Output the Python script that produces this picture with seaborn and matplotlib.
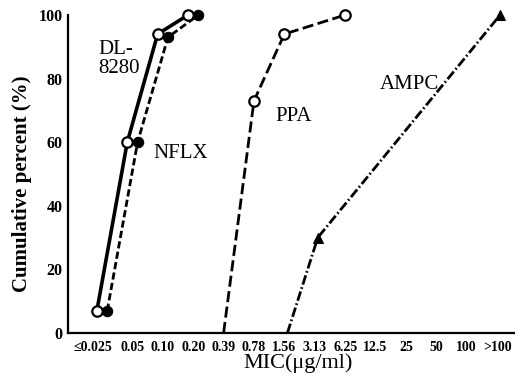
import matplotlib
matplotlib.use("Agg")
import matplotlib.pyplot as plt
import matplotlib.transforms as mtransforms
import seaborn as sns
import pandas as pd

# ---- data ----
mic_labels = ['≤0.025', '0.05', '0.10', '0.20', '0.39', '0.78', '1.56',
              '3.13', '6.25', '12.5', '25', '50', '100', '>100']
y_ticks = [0, 20, 40, 60, 80, 100]

dl8280_mic = ['≤0.025', '0.05', '0.10', '0.20']
dl8280_pct = [7, 60, 94, 100]

nflx_mic = ['≤0.025', '0.05', '0.10', '0.20']
nflx_pct = [7, 60, 93, 100]

ppa_mic = ['0.39', '0.78', '1.56', '6.25']
ppa_pct = [0, 73, 94, 100]

ampc_mic = ['1.56', '3.13', '>100']
ampc_pct = [0, 30, 100]

# ---- style ----
sns.set_theme(style="white")
plt.rcParams['font.family'] = ['Liberation Serif', 'DejaVu Serif']

fig = plt.figure(figsize=(5.15, 3.78), dpi=100)
ax = fig.add_axes([68 / 515, 45 / 378, 447 / 515, 318 / 378])


def frame(mic, pct, shift=0.0):
    return pd.DataFrame({'x': [mic_labels.index(m) + shift for m in mic],
                         'y': pct})


d_dl = frame(dl8280_mic, dl8280_pct, -0.17)
d_nf = frame(nflx_mic, nflx_pct, 0.17)
d_ppa = frame(ppa_mic, ppa_pct)
d_am = frame(ampc_mic, ampc_pct, 0.1)

sns.lineplot(data=d_nf, x='x', y='y', ax=ax, color='black', lw=2.0,
             linestyle=(0, (2.6, 1.2)), marker='o', markersize=7.5,
             markerfacecolor='black', markeredgecolor='black',
             clip_on=False, sort=False, zorder=3)
sns.lineplot(data=d_dl, x='x', y='y', ax=ax, color='black', lw=2.6,
             marker='o', markersize=7.5, markerfacecolor='white',
             markeredgecolor='black', markeredgewidth=1.6,
             clip_on=False, sort=False, zorder=4)
sns.lineplot(data=d_ppa, x='x', y='y', ax=ax, color='black', lw=2.0,
             linestyle=(0, (4.0, 1.6)), marker='o', markersize=7.5,
             markerfacecolor='white', markeredgecolor='black',
             markeredgewidth=1.6, markevery=[1, 2, 3],
             clip_on=False, sort=False, zorder=3)
sns.lineplot(data=d_am, x='x', y='y', ax=ax, color='black', lw=2.0,
             linestyle=(0, (3.5, 1.0, 0.6, 1.0)), marker='^', markersize=7.5,
             markerfacecolor='black', markeredgecolor='black',
             markevery=[1, 2], clip_on=False, sort=False, zorder=3)

# ---- labels on curves ----
lab_kw = dict(fontsize=15, color='black', fontfamily=['Liberation Serif', 'DejaVu Serif'])
ax.text(-0.13, 92, 'DL-\n8280', ha='left', va='top', linespacing=1.0, **lab_kw)
ax.text(1.68, 56.5, 'NFLX', ha='left', va='center', **lab_kw)
ax.text(5.7, 68, 'PPA', ha='left', va='center', **lab_kw)
ax.text(9.15, 78, 'AMPC', ha='left', va='center', **lab_kw)

# ---- axes ----
ax.set_xlim(-1.12, 13.59)
ax.set_ylim(0, 100)
ax.set_xticks(range(len(mic_labels)))
ax.set_xticklabels(mic_labels, fontsize=10, fontweight='bold')
ax.set_yticks(y_ticks)
ax.set_yticklabels([str(v) for v in y_ticks], fontsize=11.5, fontweight='bold')
ax.tick_params(axis='both', direction='in', length=5, width=1.5, color='black',
               labelcolor='black', pad=4)
ax.tick_params(axis='x', pad=6)

# nudge the wide first category label left so it clears its neighbour
first = ax.get_xticklabels()[0]
first.set_transform(first.get_transform() +
                    mtransforms.ScaledTranslation(-9 / 100, 0, fig.dpi_scale_trans))

for side in ['top', 'right']:
    ax.spines[side].set_visible(False)
for side in ['left', 'bottom']:
    ax.spines[side].set_color('black')
    ax.spines[side].set_linewidth(1.6)

ax.set_xlabel('MIC(μg/ml)', fontsize=16, color='black')
ax.xaxis.set_label_coords(0.515, -0.095)
ax.xaxis.label.set_va('center')
ax.set_ylabel('Cumulative percent (%)', fontsize=15, fontweight='bold', color='black')
ax.yaxis.set_label_coords(-0.103, 0.47)
ax.yaxis.label.set_va('center')

fig.savefig('out.png', dpi=100, facecolor='white')
